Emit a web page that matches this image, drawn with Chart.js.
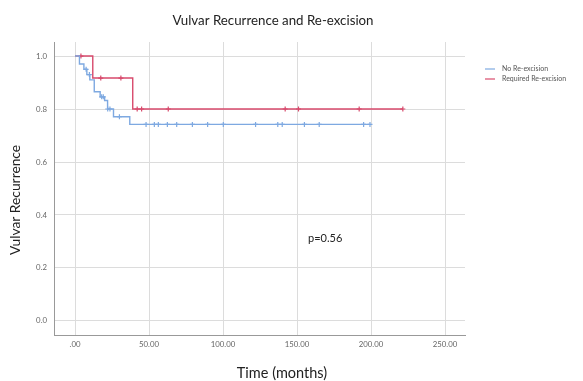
<!doctype html>
<html lang="en">
<head>
<meta charset="utf-8">
<title>Vulvar Recurrence and Re-excision</title>
<script src="https://cdn.jsdelivr.net/npm/chart.js@4.4.1/dist/chart.umd.min.js"></script>
<style>
  html,body{margin:0;padding:0;background:#fff}
  canvas{display:block}
</style>
</head>
<body>
<canvas id="chart" width="583" height="381"></canvas>
<script>
// Kaplan-Meier steps (time in months, cumulative survival)
const noTimes = [0, 3, 6, 8, 10, 13, 17, 20, 22, 26, 37, 199.3];
const noSurv  = [1, 0.97, 0.95, 0.93, 0.91, 0.865, 0.846, 0.832, 0.8, 0.771, 0.742, 0.742];
const reTimes = [0, 12, 39, 221.6];
const reSurv  = [1, 0.917, 0.8, 0.8];

// censor marks
const noCensTimes = [7.5, 9.7, 18, 19.1, 22.1, 23.6, 30, 48, 53.6, 56.3, 62.4, 68.7, 79.3, 89.6, 100.2, 122, 137, 140, 155, 165, 195, 199.3];
const noCensSurv  = [0.95, 0.93, 0.846, 0.846, 0.8, 0.8, 0.771, 0.742, 0.742, 0.742, 0.742, 0.742, 0.742, 0.742, 0.742, 0.742, 0.742, 0.742, 0.742, 0.742, 0.742, 0.742];
const reCensTimes = [4, 17.4, 31, 42, 45, 63, 142, 151, 192, 221.5];
const reCensSurv  = [1, 0.917, 0.917, 0.8, 0.8, 0.8, 0.8, 0.8, 0.8, 0.8];

const xTicks = [0, 50, 100, 150, 200, 250];
const yTicks = [0, 0.2, 0.4, 0.6, 0.8, 1.0];
const seriesNames = ['No Re-excision', 'Required Re-excision'];
const pText = 'p=0.56';
const pAt = { x: 169, y: 0.313 };

const BLUE = '#7ea9e1', RED = '#d84a6c';
const FONT = 'Lato, "Open Sans", sans-serif';

const pts = (xs, ys) => xs.map((x, i) => ({ x, y: ys[i] }));

const textPlugin = {
  id: 'texts',
  afterDraw(chart) {
    const ctx = chart.ctx, a = chart.chartArea;
    ctx.save();
    ctx.fillStyle = '#222';
    ctx.textAlign = 'center';
    ctx.textBaseline = 'middle';
    ctx.font = '13.3px ' + FONT;
    ctx.fillText('Vulvar Recurrence and Re-excision', a.left + 219, 21);
    ctx.font = '14.5px ' + FONT;
    ctx.fillText('Time (months)', a.left + 228, 373);
    ctx.save();
    ctx.font = '13.8px ' + FONT;
    ctx.translate(16, 200);
    ctx.rotate(-Math.PI / 2);
    ctx.fillText('Vulvar Recurrence', 0, 0);
    ctx.restore();
    // p value
    ctx.font = '11px ' + FONT;
    const sx = chart.scales.x, sy = chart.scales.y;
    ctx.fillText(pText, sx.getPixelForValue(pAt.x), sy.getPixelForValue(pAt.y));
    // legend
    ctx.font = '7px ' + FONT;
    ctx.textAlign = 'left';
    [BLUE, RED].forEach((c, i) => {
      const y = 69 + i * 10;
      ctx.strokeStyle = c;
      ctx.lineWidth = 1.2;
      ctx.beginPath();
      ctx.moveTo(a.right + 20, y);
      ctx.lineTo(a.right + 30, y);
      ctx.stroke();
      ctx.fillStyle = '#555';
      ctx.fillText(seriesNames[i], a.right + 37, y);
    });
    ctx.restore();
  }
};

new Chart(document.getElementById('chart').getContext('2d'), {
  type: 'line',
  data: {
    datasets: [
      { label: seriesNames[0], data: pts(noTimes, noSurv), stepped: true, borderColor: BLUE, borderWidth: 1.4, pointRadius: 0, fill: false },
      { label: seriesNames[1], data: pts(reTimes, reSurv), stepped: true, borderColor: RED, borderWidth: 1.4, pointRadius: 0, fill: false },
      { label: 'cens1', data: pts(noCensTimes, noCensSurv), showLine: false, pointStyle: 'cross', pointRadius: 2.5, borderColor: BLUE, borderWidth: 1.2 },
      { label: 'cens2', data: pts(reCensTimes, reCensSurv), showLine: false, pointStyle: 'cross', pointRadius: 2.5, borderColor: RED, borderWidth: 1.2 }
    ]
  },
  options: {
    responsive: false,
    animation: false,
    parsing: false,
    layout: { padding: { top: 42, right: 118, left: 0, bottom: 0 } },
    plugins: { legend: { display: false }, title: { display: false }, tooltip: { enabled: false } },
    scales: {
      x: {
        type: 'linear', min: -14.2, max: 263.5,
        afterBuildTicks: s => { s.ticks = xTicks.map(v => ({ value: v })); },
        afterFit: s => { s.height = 46; },
        grid: { color: '#dcdcdc', drawTicks: false },
        border: { color: '#999' },
        ticks: { padding: 5, color: '#666', font: { family: FONT, size: 7.8 },
          callback: v => v === 0 ? '.00' : v.toFixed(2) }
      },
      y: {
        type: 'linear', min: -0.053, max: 1.053,
        afterBuildTicks: s => { s.ticks = yTicks.map(v => ({ value: v })); },
        afterFit: s => { s.width = 54; },
        grid: { color: '#dcdcdc', drawTicks: false },
        border: { color: '#999' },
        ticks: { padding: 7, color: '#666', font: { family: FONT, size: 7.8 },
          callback: v => v.toFixed(1) }
      }
    }
  },
  plugins: [textPlugin]
});
</script>
</body>
</html>
